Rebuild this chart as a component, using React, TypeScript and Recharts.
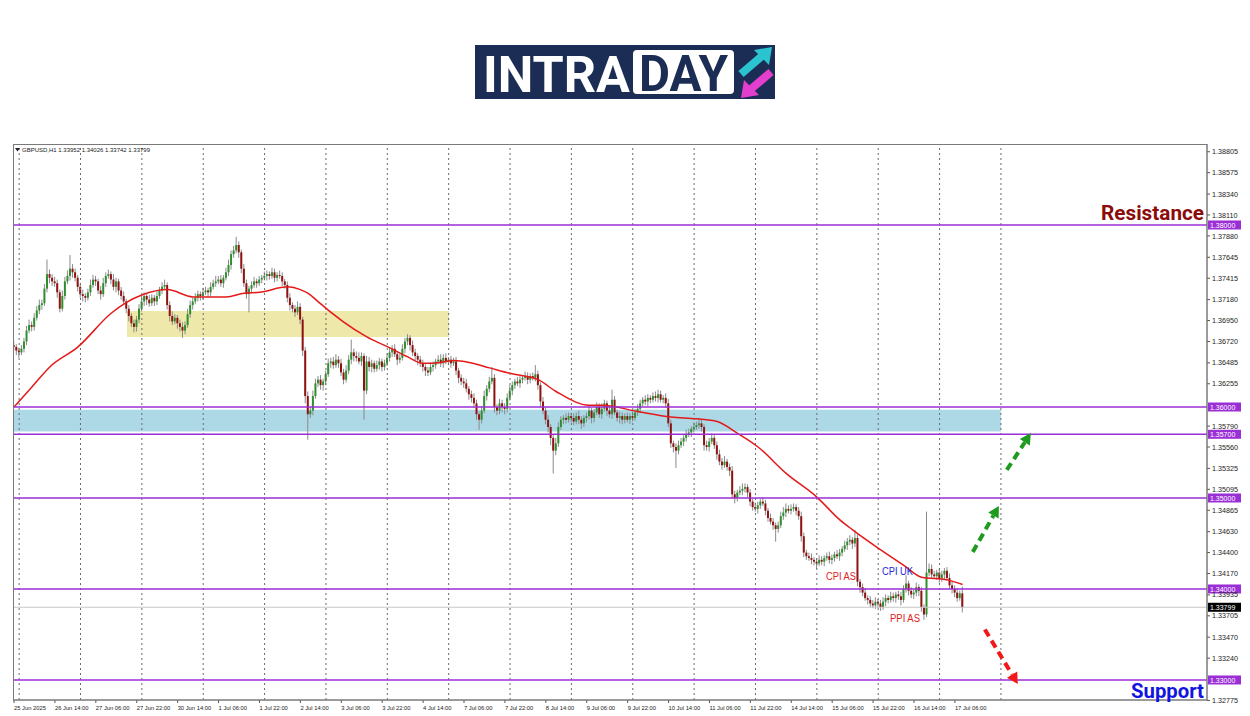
import React from 'react';
import { ComposedChart, Bar, Line, XAxis, YAxis, ReferenceLine, ReferenceArea } from 'recharts';

// GBPUSD H1 closes, in pips above 1.3000 (one line = 16 bars)
const closes: number[] = [
  666, 662, 660, 664, 672, 684, 690, 688, 698, 706, 712, 714, 730, 746, 742, 738,
  736, 726, 708, 722, 738, 744, 752, 748, 742, 732, 724, 722, 720, 726, 734, 740,
  738, 728, 724, 736, 744, 746, 740, 732, 738, 728, 722, 716, 708, 700, 692, 688,
  696, 708, 716, 722, 718, 714, 720, 716, 722, 728, 732, 734, 712, 700, 694, 698,
  692, 688, 684, 690, 702, 712, 716, 720, 724, 722, 726, 728, 726, 732, 736, 738,
  740, 736, 742, 748, 756, 768, 772, 778, 770, 752, 736, 724, 730, 734, 738, 736,
  740, 742, 744, 746, 744, 748, 742, 745, 744, 738, 734, 720, 712, 708, 704, 710,
  696, 662, 612, 592, 596, 612, 626, 630, 624, 628, 636, 648, 650, 646, 652, 648,
  638, 630, 640, 652, 660, 656, 654, 650, 656, 618, 650, 644, 648, 642, 646, 650,
  644, 648, 654, 660, 664, 658, 652, 654, 664, 672, 676, 668, 660, 656, 652, 648,
  644, 640, 638, 644, 646, 650, 652, 648, 654, 650, 652, 648, 650, 640, 632, 628,
  626, 620, 614, 610, 604, 592, 586, 596, 612, 620, 628, 632, 600, 596, 604, 600,
  598, 610, 618, 624, 628, 626, 630, 632, 634, 630, 634, 632, 636, 624, 606, 596,
  586, 578, 566, 552, 560, 578, 586, 588, 586, 590, 588, 584, 590, 586, 582, 588,
  590, 596, 588, 594, 600, 592, 598, 604, 596, 592, 608, 594, 588, 590, 586, 590,
  586, 590, 588, 594, 598, 604, 608, 606, 610, 608, 612, 610, 614, 608, 610, 604,
  582, 560, 556, 552, 558, 562, 566, 570, 572, 576, 578, 580, 582, 578, 558, 556,
  562, 566, 558, 548, 540, 536, 540, 534, 530, 504, 500, 506, 508, 510, 512, 506,
  496, 490, 488, 492, 496, 494, 486, 478, 474, 470, 466, 470, 480, 484, 488, 486,
  488, 490, 486, 480, 458, 440, 436, 434, 432, 430, 428, 432, 430, 434, 436, 432,
  434, 438, 436, 440, 444, 448, 452, 454, 450, 456, 408, 402, 396, 390, 388, 384,
  382, 386, 384, 380, 386, 390, 388, 392, 390, 394, 392, 388, 400, 406, 398, 394,
  396, 402, 398, 380, 372, 418, 422, 416, 414, 418, 412, 416, 420, 412, 404, 400,
  396, 390, 395.2, 379.9,
];

// upper / lower shadow length beyond the body, pips
const wickHi: number[] = [
  4, 3, 3, 4, 4, 5, 6, 4, 5, 5, 6, 4, 5, 16, 5, 4,
  5, 4, 3, 6, 5, 6, 15, 5, 4, 3, 4, 5, 3, 4, 6, 5,
  4, 3, 5, 6, 4, 5, 3, 6, 4, 3, 4, 5, 3, 4, 3, 4,
  4, 5, 6, 4, 3, 5, 4, 3, 5, 4, 5, 6, 3, 4, 5, 4,
  3, 4, 5, 4, 6, 5, 4, 5, 4, 3, 5, 4, 3, 5, 4, 6,
  4, 5, 3, 5, 6, 4, 5, 9, 4, 3, 5, 4, 3, 4, 5, 3,
  4, 3, 5, 4, 3, 5, 4, 3, 5, 4, 3, 4, 5, 3, 4, 6,
  4, 3, 4, 5, 4, 6, 5, 4, 5, 3, 4, 5, 4, 5, 6, 4,
  5, 4, 6, 5, 14, 4, 5, 6, 4, 3, 6, 5, 4, 3, 5, 4,
  3, 4, 5, 6, 4, 5, 3, 4, 5, 4, 4, 3, 5, 4, 3, 4,
  4, 3, 4, 5, 4, 3, 5, 6, 4, 5, 3, 4, 4, 5, 3, 4,
  4, 5, 3, 4, 5, 4, 3, 5, 6, 4, 5, 12, 4, 3, 5, 4,
  4, 5, 6, 4, 3, 5, 4, 3, 5, 4, 3, 4, 10, 4, 3, 5,
  4, 5, 3, 4, 6, 5, 4, 3, 5, 4, 3, 5, 4, 6, 4, 3,
  4, 5, 3, 4, 5, 4, 6, 4, 3, 5, 11, 4, 3, 5, 4, 3,
  4, 3, 5, 4, 5, 4, 3, 5, 4, 3, 4, 5, 5, 4, 3, 5,
  5, 4, 3, 4, 5, 4, 3, 5, 4, 3, 5, 4, 6, 4, 3, 5,
  4, 5, 3, 4, 5, 4, 6, 3, 4, 5, 4, 3, 5, 6, 4, 3,
  4, 3, 5, 4, 3, 5, 4, 3, 5, 4, 3, 4, 5, 6, 6, 4,
  5, 4, 3, 4, 5, 4, 3, 4, 5, 3, 4, 5, 4, 3, 4, 5,
  4, 3, 5, 4, 3, 5, 4, 5, 3, 9, 4, 3, 4, 5, 3, 4,
  4, 5, 3, 4, 5, 4, 3, 5, 4, 3, 4, 5, 4, 9, 3, 4,
  4, 5, 3, 4, 3, 67, 6, 5, 4, 3, 5, 4, 3, 4, 5, 4,
  4, 5, 3, 7.4,
];

const wickLo: number[] = [
  4, 5, 6, 3, 4, 4, 3, 5, 4, 3, 4, 5, 3, 4, 6, 5,
  4, 6, 4, 3, 4, 3, 5, 6, 4, 5, 4, 6, 5, 3, 4, 3,
  5, 4, 6, 3, 4, 3, 5, 4, 6, 5, 4, 3, 5, 6, 4, 6,
  5, 4, 3, 5, 6, 4, 3, 5, 4, 3, 4, 3, 5, 6, 4, 3,
  6, 5, 8, 4, 3, 4, 5, 3, 4, 5, 4, 3, 5, 4, 3, 4,
  3, 4, 5, 3, 4, 5, 4, 3, 6, 5, 4, 5, 20, 4, 3, 5,
  3, 4, 3, 5, 4, 3, 5, 4, 3, 5, 4, 5, 6, 4, 5, 3,
  5, 6, 8, 28, 4, 5, 3, 4, 5, 6, 4, 3, 5, 4, 3, 5,
  4, 5, 3, 4, 5, 6, 4, 3, 5, 32, 4, 5, 6, 4, 3, 5,
  5, 4, 3, 4, 5, 3, 6, 4, 3, 5, 4, 6, 4, 5, 6, 4,
  5, 6, 4, 3, 5, 4, 3, 4, 5, 3, 4, 5, 3, 5, 6, 4,
  5, 4, 6, 5, 4, 6, 11, 4, 3, 5, 4, 3, 6, 5, 4, 6,
  6, 4, 3, 5, 4, 3, 5, 4, 3, 5, 4, 3, 4, 5, 6, 4,
  5, 6, 8, 25, 5, 4, 3, 5, 4, 3, 5, 4, 3, 5, 6, 4,
  5, 4, 6, 5, 3, 4, 5, 3, 6, 4, 5, 3, 4, 6, 5, 4,
  3, 5, 4, 3, 4, 5, 3, 4, 5, 4, 3, 4, 5, 3, 4, 5,
  4, 5, 6, 19, 4, 3, 5, 4, 3, 5, 4, 3, 4, 5, 6, 4,
  5, 3, 4, 6, 4, 5, 3, 4, 6, 5, 6, 4, 3, 5, 4, 5,
  5, 4, 3, 5, 4, 3, 5, 4, 3, 5, 14, 4, 3, 4, 5, 3,
  4, 3, 5, 4, 6, 5, 4, 3, 5, 4, 6, 3, 4, 5, 3, 4,
  5, 4, 3, 5, 4, 3, 5, 4, 6, 4, 5, 6, 4, 3, 5, 4,
  3, 4, 5, 4, 3, 5, 4, 3, 4, 5, 4, 6, 3, 4, 5, 4,
  5, 4, 6, 5, 6, 3, 4, 5, 3, 4, 5, 4, 5, 3, 4, 5,
  5, 4, 3, 5.7,
];
const firstOpen = 668;

// red moving average: [bar index, pips above 1.3000]
const maPoints: [number, number][] = [
  [0, 600], [7, 622], [14, 644], [25, 666], [38, 703], [44, 715], [50, 723], [60, 729],
  [70, 721], [83, 721], [90, 725], [96, 726], [107, 732], [112, 729], [116, 723], [118, 718],
  [138, 677], [147, 665], [154, 655], [160, 648], [167, 649], [172, 651], [178, 649], [186, 643],
  [194, 637], [205, 630], [212, 617], [225, 602], [230, 602], [244, 595], [257, 589], [267, 587],
  [275, 584], [283, 571], [291, 556], [302, 527], [314, 501], [323, 476], [328, 465], [339, 443],
  [348, 426], [355, 413], [365, 410], [371, 405],
];

const timeLabels = [
  '25 Jun 2025', '26 Jun 14:00', '27 Jun 06:00', '27 Jun 22:00', '30 Jun 14:00', '1 Jul 06:00',
  '1 Jul 22:00', '2 Jul 14:00', '3 Jul 06:00', '3 Jul 22:00', '4 Jul 14:00', '7 Jul 06:00',
  '7 Jul 22:00', '8 Jul 14:00', '9 Jul 06:00', '9 Jul 22:00', '10 Jul 14:00', '11 Jul 06:00',
  '11 Jul 22:00', '14 Jul 14:00', '15 Jul 06:00', '15 Jul 22:00', '16 Jul 14:00', '17 Jul 06:00',
];
const labelEvery = 16;
const dayStarts = [2, 26, 50, 74, 98, 122, 146, 170, 194, 218, 242, 266, 290, 314, 338, 362, 386];

const priceTicks = [
  1.38805, 1.38575, 1.3834, 1.3811, 1.3788, 1.37645, 1.37415, 1.3718, 1.3695, 1.3672, 1.36485,
  1.36255, 1.3579, 1.3556, 1.35325, 1.35095, 1.34865, 1.3463, 1.344, 1.3417, 1.33935, 1.33705,
  1.3347, 1.3324, 1.32775,
];
const levels = [1.38, 1.36, 1.357, 1.35, 1.34, 1.33];
const lastPrice = 1.33799;
const ohlcText = 'GBPUSD,H1  1.33952 1.34026 1.33742 1.33799';

// zones and drawn arrows, in chart units
const blueZone = { x1: -0.4, x2: 386, y1: 1.3573, y2: 1.3597 };
const yellowZone = { x1: 44.2, x2: 170.1, y1: 1.36769, y2: 1.37055 };
const arrows = [
  { from: { x: 375, y: 1.34407 }, to: { x: 385.2, y: 1.34912 }, color: '#1e9a1e' },
  { from: { x: 388.3, y: 1.35308 }, to: { x: 397.7, y: 1.35714 }, color: '#1e9a1e' },
  { from: { x: 379.7, y: 1.33555 }, to: { x: 392.6, y: 1.32956 }, color: '#f01818' },
];

const PURPLE = '#9b2fd6';
const toPrice = (p: number) => +(1.3 + p / 10000).toFixed(6);

const candles = closes.map((c, i) => {
  const o = i === 0 ? firstOpen : closes[i - 1];
  const h = Math.max(o, c) + wickHi[i];
  const l = Math.min(o, c) - wickLo[i];
  return { i, o: toPrice(o), c: toPrice(c), h: toPrice(h), l: toPrice(l), range: [toPrice(l), toPrice(h)] };
});
const maData = maPoints.map(([i, p]) => ({ i, ma: toPrice(p) }));
const timeTicks = timeLabels.map((_, k) => k * labelEvery);

const Candle = (props: any) => {
  const { x, width, payload } = props;
  let { y, height } = props;
  if (!payload || x == null) return null;
  if (height < 0) { y += height; height = -height; }
  const { o, c, h, l } = payload;
  const k = h - l > 0 ? height / (h - l) : 0;
  const cx = x + width / 2;
  const yO = y + (h - o) * k;
  const yC = y + (h - c) * k;
  const top = Math.min(yO, yC);
  const bh = Math.max(Math.abs(yO - yC), 1);
  return (
    <g>
      <line x1={cx} x2={cx} y1={y} y2={y + height} stroke="#8a8a8a" strokeWidth={1} />
      <rect x={cx - 1} y={top} width={2} height={bh} fill={c >= o ? '#2f8f2f' : '#8e1212'} />
    </g>
  );
};

const XTick = (props: any) => {
  const { x, y, payload } = props;
  const k = timeTicks.indexOf(payload.value);
  return (
    <text x={x} y={y + 6} fontSize={5.8} fill="#222" textAnchor="start" fontFamily="Liberation Sans">
      {timeLabels[k]}
    </text>
  );
};

const YTick = (props: any) => {
  const { x, y, payload } = props;
  return (
    <text x={x} y={y + 2.6} fontSize={7.2} fill="#222" textAnchor="start" fontFamily="Liberation Sans">
      {payload.value.toFixed(5)}
    </text>
  );
};

const priceBox = (value: number, fill: string) => (p: any) => {
  const vb = p.viewBox || {};
  const bx = vb.x + vb.width + 1;
  return (
    <g>
      <rect x={bx} y={vb.y - 4.5} width={33} height={9} fill={fill} />
      <text x={bx + 2} y={vb.y + 2.6} fontSize={7} fill="#fff" fontFamily="Liberation Sans">
        {value.toFixed(5)}
      </text>
    </g>
  );
};

const arrowShape = (color: string) => (p: any) => {
  const { x1, y1, x2, y2 } = p;
  if (x1 == null) return null;
  const dx = x2 - x1;
  const dy = y2 - y1;
  const len = Math.sqrt(dx * dx + dy * dy);
  const ux = dx / len;
  const uy = dy / len;
  const head = 11;
  const bx = x2 - ux * head;
  const by = y2 - uy * head;
  const px = -uy * 6;
  const py = ux * 6;
  return (
    <g>
      <line x1={x1} y1={y1} x2={bx} y2={by} stroke={color} strokeWidth={4} strokeDasharray="8 5" />
      <polygon points={`${x2},${y2} ${bx + px},${by + py} ${bx - px},${by - py}`} fill={color} />
    </g>
  );
};

export default function App() {
  return (
    <div style={{ position: 'absolute', left: 0, top: 0, width: 1250, height: 716, background: '#fff', fontFamily: 'Liberation Sans' }}>
      <ComposedChart
        width={1250}
        height={716}
        data={candles}
        margin={{ top: 144, left: 13, right: 0, bottom: 0 }}
      >
        <XAxis
          dataKey="i"
          type="number"
          domain={[-0.4, 466.6]}
          allowDataOverflow
          ticks={timeTicks}
          interval={0}
          height={16}
          axisLine={{ stroke: '#7a7a7a' }}
          tickLine={{ stroke: '#555' }}
          tickSize={3}
          tickMargin={1}
          tick={<XTick />}
        />
        <YAxis
          orientation="right"
          type="number"
          domain={[1.3278, 1.3889]}
          allowDataOverflow
          ticks={priceTicks}
          interval={0}
          width={43}
          axisLine={{ stroke: '#7a7a7a' }}
          tickLine={{ stroke: '#555' }}
          tickSize={3}
          tickMargin={2}
          tick={<YTick />}
        />
        <ReferenceArea {...blueZone} fill="#add8e6" fillOpacity={1} stroke="none" />
        <ReferenceArea {...yellowZone} fill="#eee8aa" fillOpacity={1} stroke="none" />
        {dayStarts.map((d) => (
          <ReferenceLine key={d} x={d} stroke="#6a6a6a" strokeDasharray="2 3" strokeWidth={1} />
        ))}
        <ReferenceLine y={lastPrice} stroke="#c8c8c8" strokeWidth={1} label={priceBox(lastPrice, '#000')} />
        <Bar dataKey="range" barSize={2} shape={<Candle />} isAnimationActive={false} />
        <Line
          data={maData}
          dataKey="ma"
          type="monotone"
          stroke="#e41a1a"
          strokeWidth={1.5}
          dot={false}
          activeDot={false}
          isAnimationActive={false}
        />
        {levels.map((v) => (
          <ReferenceLine key={v} y={v} stroke={PURPLE} strokeWidth={1.5} label={priceBox(v, PURPLE)} />
        ))}
        {arrows.map((a, k) => (
          <ReferenceLine key={`a${k}`} segment={[a.from, a.to]} ifOverflow="visible" shape={arrowShape(a.color)} />
        ))}
      </ComposedChart>

      <svg width={1250} height={716} style={{ position: 'absolute', left: 0, top: 0, pointerEvents: 'none' }}>
        <rect x={13.5} y={144.5} width={1193.5} height={555.5} fill="none" stroke="#7a7a7a" strokeWidth={1} />
        {/* logo */}
        <rect x={475} y={45} width={300} height={54} fill="#1c2d55" />
        <text x={483} y={92} fontSize={50} fontWeight={700} fill="#fff" fontFamily="Roboto" textLength={147} lengthAdjust="spacingAndGlyphs">INTRA</text>
        <rect x={633} y={50} width={101} height={44} rx={4} fill="#fff" />
        <text x={639} y={91} fontSize={50} fontWeight={700} fill="#1c2d55" fontFamily="Roboto" textLength={89} lengthAdjust="spacingAndGlyphs">DAY</text>
        <line x1={741} y1={74} x2={762} y2={56} stroke="#2bc3cf" strokeWidth={8} />
        <polygon points="772,47 754,50 769,65" fill="#2bc3cf" />
        <line x1={771} y1={72} x2={751} y2={89} stroke="#e33fcf" strokeWidth={8} />
        <polygon points="741,98 744,80 759,95" fill="#e33fcf" />
        {/* header */}
        <polygon points="15,148 20,148 17.5,151.5" fill="#222" />
        <text x={22} y={152} fontSize={6} fill="#222" textLength={128} lengthAdjust="spacingAndGlyphs">{ohlcText}</text>
        {/* annotations */}
        <text x={1101} y={220} fontSize={21} fontWeight={700} fill="#8b0a0a" fontFamily="Roboto" textLength={103} lengthAdjust="spacingAndGlyphs">Resistance</text>
        <text x={1131} y={698} fontSize={21} fontWeight={700} fill="#1414e0" fontFamily="Roboto" textLength={73} lengthAdjust="spacingAndGlyphs">Support</text>
        <text x={826} y={580} fontSize={10} fill="#e02222" textLength={30} lengthAdjust="spacingAndGlyphs">CPI AS</text>
        <text x={882} y={575} fontSize={10} fill="#2525d8" textLength={31} lengthAdjust="spacingAndGlyphs">CPI UK</text>
        <text x={890} y={622} fontSize={10} fill="#e02222" textLength={30} lengthAdjust="spacingAndGlyphs">PPI AS</text>
      </svg>
    </div>
  );
}
